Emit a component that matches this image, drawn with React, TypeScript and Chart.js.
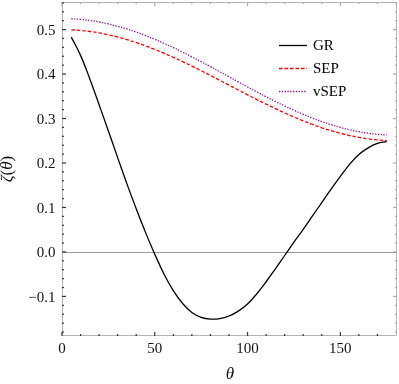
import { useEffect, useRef } from "react";
import { Chart, registerables } from "chart.js";

Chart.register(...registerables);

const theta = [5, 10, 15, 20, 25, 30, 35, 40, 45, 50, 55, 60, 65, 70, 75, 80, 85, 90, 95, 100, 105, 110, 115, 120, 125, 130, 135, 140, 145, 150, 155, 160, 165, 170, 175];
const grValues = [0.483, 0.442, 0.389, 0.331, 0.272, 0.212, 0.153, 0.097, 0.044, -0.005, -0.05, -0.087, -0.116, -0.136, -0.147, -0.151, -0.15, -0.144, -0.133, -0.117, -0.094, -0.067, -0.038, -0.008, 0.022, 0.051, 0.081, 0.111, 0.141, 0.17, 0.197, 0.219, 0.234, 0.244, 0.248];
const sepValues = [0.4995, 0.4981, 0.4957, 0.4925, 0.4883, 0.4833, 0.4774, 0.4708, 0.4634, 0.4553, 0.4467, 0.4375, 0.4278, 0.4178, 0.4074, 0.3967, 0.3859, 0.375, 0.3641, 0.3533, 0.3426, 0.3322, 0.3222, 0.3125, 0.3033, 0.2947, 0.2866, 0.2792, 0.2726, 0.2667, 0.2617, 0.2575, 0.2543, 0.2519, 0.2505];
const vsepValues = [0.5245, 0.523, 0.5205, 0.5171, 0.5127, 0.5074, 0.5013, 0.4943, 0.4866, 0.4781, 0.469, 0.4594, 0.4492, 0.4386, 0.4277, 0.4166, 0.4052, 0.3938, 0.3823, 0.3709, 0.3598, 0.3488, 0.3383, 0.3281, 0.3185, 0.3094, 0.3009, 0.2932, 0.2862, 0.28, 0.2748, 0.2704, 0.267, 0.2645, 0.263];
const seriesLabels = ["GR", "SEP", "vSEP"];
const xMajorTicks = [0, 50, 100, 150];
const xMinorTicks = [10, 20, 30, 40, 60, 70, 80, 90, 110, 120, 130, 140, 160, 170];
const yMajorTicks = [-0.1, 0, 0.1, 0.2, 0.3, 0.4, 0.5];
const yMinorTicks = [-0.18, -0.16, -0.14, -0.12, -0.08, -0.06, -0.04, -0.02, 0.02, 0.04, 0.06, 0.08, 0.12, 0.14, 0.16, 0.18, 0.22, 0.24, 0.26, 0.28, 0.32, 0.34, 0.36, 0.38, 0.42, 0.44, 0.46, 0.48, 0.52, 0.54, 0.56];
const xTickLabels = ["0", "50", "100", "150"];
const yTickLabels = ["\u22120.1", "0.0", "0.1", "0.2", "0.3", "0.4", "0.5"];
const xTitle = "θ";
const yTitleParts = [
  { t: "ζ", italic: true },
  { t: "(", italic: false },
  { t: "θ", italic: true },
  { t: ")", italic: false },
];

const SERIF = "'Liberation Serif', serif";
const colors = ["#000000", "#ff0000", "#8f1f96"];
const dashes = [[], [3.5, 2], [1.4, 1.4]];

const framePlugin = {
  id: "mmaFrame",
  beforeDatasetsDraw(chart: any) {
    const { ctx, chartArea } = chart;
    const y0 = Math.round(chart.scales.y.getPixelForValue(0)) + 0.5;
    ctx.save();
    ctx.strokeStyle = "#9a9a9a";
    ctx.lineWidth = 1;
    ctx.beginPath();
    ctx.moveTo(chartArea.left, y0);
    ctx.lineTo(chartArea.right, y0);
    ctx.stroke();
    ctx.restore();
  },
  afterDatasetsDraw(chart: any) {
    const { ctx, chartArea } = chart;
    const { left, right, top, bottom } = chartArea;
    const xs = chart.scales.x;
    const ys = chart.scales.y;
    ctx.save();
    ctx.strokeStyle = "#b4b4b4";
    ctx.lineWidth = 1;
    ctx.beginPath();
    ctx.moveTo(left + 0.5, top + 0.5);
    ctx.lineTo(right + 0.5, top + 0.5);
    ctx.lineTo(right + 0.5, bottom - 0.5);
    ctx.lineTo(left + 0.5, bottom - 0.5);
    ctx.closePath();
    ctx.stroke();

    const drawX = (v: number, len: number, dark: string, light: string) => {
      const px = xs.getPixelForValue(v);
      ctx.fillStyle = dark;
      ctx.fillRect(px - 0.6, bottom - len, 1.2, len);
      ctx.fillStyle = light;
      ctx.fillRect(px - 0.6, top, 1.2, len);
    };
    const drawY = (v: number, len: number, dark: string, light: string) => {
      const py = ys.getPixelForValue(v);
      ctx.fillStyle = dark;
      ctx.fillRect(left, py - 0.6, len, 1.2);
      ctx.fillStyle = light;
      ctx.fillRect(right + 1 - len, py - 0.6, len, 1.2);
    };
    xMajorTicks.forEach((v) => drawX(v, 4, "#333", "#aaa"));
    xMinorTicks.forEach((v) => drawX(v, 2, "#333", "#aaa"));
    yMajorTicks.forEach((v) => drawY(v, 4, "#333", "#aaa"));
    yMinorTicks.forEach((v) => drawY(v, 2, "#333", "#aaa"));

    ctx.font = `15px ${SERIF}`;
    ctx.fillStyle = "#111";
    ctx.textBaseline = "alphabetic";
    ctx.textAlign = "right";
    yMajorTicks.forEach((v, i) => {
      const py = ys.getPixelForValue(v);
      ctx.fillText(yTickLabels[i], left - 6.5, py + 5.2);
    });
    ctx.textAlign = "center";
    xMajorTicks.forEach((v, i) => {
      const px = xs.getPixelForValue(v);
      ctx.fillText(xTickLabels[i], px, bottom + 16.5);
    });

    const legendY = [45, 68, 91];
    ctx.font = `15px ${SERIF}`;
    ctx.textBaseline = "middle";
    ctx.textAlign = "left";
    seriesLabels.forEach((lab, i) => {
      ctx.strokeStyle = colors[i];
      ctx.lineWidth = 1.3;
      ctx.setLineDash(dashes[i]);
      ctx.beginPath();
      ctx.moveTo(279, legendY[i] + 0.5);
      ctx.lineTo(307, legendY[i] + 0.5);
      ctx.stroke();
      ctx.setLineDash([]);
      ctx.fillStyle = "#000";
      ctx.fillText(lab, 313, legendY[i] + 1);
    });

    ctx.font = `italic 17px ${SERIF}`;
    ctx.textAlign = "center";
    ctx.textBaseline = "middle";
    ctx.fillStyle = "#111";
    ctx.fillText(xTitle, (left + right) / 2 + 1, 375);

    ctx.save();
    ctx.translate(8, (top + bottom) / 2);
    ctx.rotate(-Math.PI / 2);
    const fonts = yTitleParts.map((p) => (p.italic ? `italic 17px ${SERIF}` : `17px ${SERIF}`));
    let total = 0;
    const widths = yTitleParts.map((p, i) => {
      ctx.font = fonts[i];
      const w = ctx.measureText(p.t).width;
      total += w;
      return w;
    });
    let cx = -total / 2;
    ctx.textAlign = "left";
    yTitleParts.forEach((p, i) => {
      ctx.font = fonts[i];
      ctx.fillText(p.t, cx, 0);
      cx += widths[i];
    });
    ctx.restore();
    ctx.restore();
  },
};

export default function App() {
  const ref = useRef<HTMLCanvasElement | null>(null);
  useEffect(() => {
    if (!ref.current) return;
    const mk = (vals: number[]) => theta.map((t, i) => ({ x: t, y: vals[i] }));
    const allVals = [grValues, sepValues, vsepValues];
    const chart = new Chart(ref.current, {
      type: "line",
      data: {
        datasets: seriesLabels.map((lab, i) => ({
          label: lab,
          data: mk(allVals[i]),
          borderColor: colors[i],
          borderWidth: 1.3,
          borderDash: dashes[i],
          pointRadius: 0,
          fill: false,
          tension: 0.4,
        })),
      },
      options: {
        animation: false,
        responsive: false,
        devicePixelRatio: 1,
        layout: { padding: { top: 2, right: 3, left: 0, bottom: 0 } },
        plugins: { legend: { display: false }, tooltip: { enabled: false } },
        scales: {
          x: {
            type: "linear",
            min: 0,
            max: 180,
            grid: { display: false },
            border: { display: false },
            ticks: { display: false },
            afterBuildTicks: (s: any) => {
              s.ticks = xMajorTicks.map((v) => ({ value: v }));
            },
            afterFit: (s: any) => {
              s.height = 48;
            },
          },
          y: {
            type: "linear",
            min: -0.189,
            max: 0.562,
            grid: { display: false },
            border: { display: false },
            ticks: { display: false },
            afterBuildTicks: (s: any) => {
              s.ticks = yMajorTicks.map((v) => ({ value: v }));
            },
            afterFit: (s: any) => {
              s.width = 62;
            },
          },
        },
      },
      plugins: [framePlugin],
    });
    return () => chart.destroy();
  }, []);
  return (
    <div style={{ position: "fixed", left: 0, top: 0, width: 399, height: 384, background: "#fff" }}>
      <canvas ref={ref} width={399} height={384} />
    </div>
  );
}
